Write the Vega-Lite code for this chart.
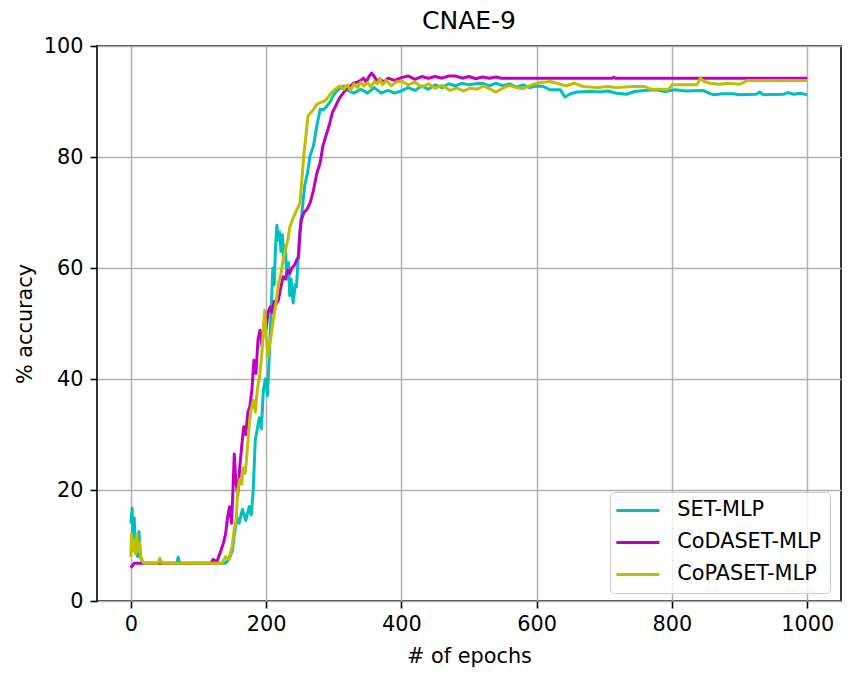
{
  "$schema": "https://vega.github.io/schema/vega-lite/v6.json",
  "width": 744,
  "height": 555,
  "autosize": {"type": "none"},
  "padding": {"left": 97, "top": 46, "right": 24, "bottom": 79},
  "background": "white",
  "title": {
    "text": "CNAE-9",
    "font": "DejaVu Sans",
    "fontSize": 25,
    "fontWeight": "normal",
    "color": "black",
    "anchor": "middle",
    "baseline": "bottom",
    "frame": "group",
    "offset": 6,
    "dy": 30
  },
  "config": {
    "font": "DejaVu Sans",
    "view": {"stroke": "black", "strokeWidth": 1.6},
    "axis": {
      "domain": false,
      "grid": true,
      "gridColor": "#b0b0b0",
      "gridWidth": 1.5,
      "tickColor": "black",
      "tickWidth": 1.6,
      "tickSize": 7,
      "labelFont": "DejaVu Sans",
      "labelFontSize": 20.8,
      "labelColor": "black",
      "titleFont": "DejaVu Sans",
      "titleFontSize": 20.8,
      "titleFontWeight": "normal",
      "titleColor": "black"
    }
  },
  "data": {
    "values": [
      {"model": "SET-MLP", "epoch": 0, "acc": 14},
      {"model": "SET-MLP", "epoch": 2, "acc": 16.7},
      {"model": "SET-MLP", "epoch": 3, "acc": 10},
      {"model": "SET-MLP", "epoch": 5, "acc": 15},
      {"model": "SET-MLP", "epoch": 7, "acc": 9},
      {"model": "SET-MLP", "epoch": 10, "acc": 8},
      {"model": "SET-MLP", "epoch": 12, "acc": 12.5},
      {"model": "SET-MLP", "epoch": 14, "acc": 8},
      {"model": "SET-MLP", "epoch": 17, "acc": 7},
      {"model": "SET-MLP", "epoch": 20, "acc": 6.8},
      {"model": "SET-MLP", "epoch": 68, "acc": 6.8},
      {"model": "SET-MLP", "epoch": 70, "acc": 7.9},
      {"model": "SET-MLP", "epoch": 72, "acc": 6.8},
      {"model": "SET-MLP", "epoch": 140, "acc": 6.8},
      {"model": "SET-MLP", "epoch": 145, "acc": 7.5},
      {"model": "SET-MLP", "epoch": 150, "acc": 9},
      {"model": "SET-MLP", "epoch": 153, "acc": 12},
      {"model": "SET-MLP", "epoch": 157, "acc": 15},
      {"model": "SET-MLP", "epoch": 160, "acc": 14},
      {"model": "SET-MLP", "epoch": 165, "acc": 16.5},
      {"model": "SET-MLP", "epoch": 170, "acc": 14.5},
      {"model": "SET-MLP", "epoch": 175, "acc": 17},
      {"model": "SET-MLP", "epoch": 178, "acc": 15.5},
      {"model": "SET-MLP", "epoch": 181, "acc": 20},
      {"model": "SET-MLP", "epoch": 184, "acc": 29},
      {"model": "SET-MLP", "epoch": 187, "acc": 31},
      {"model": "SET-MLP", "epoch": 190, "acc": 33},
      {"model": "SET-MLP", "epoch": 193, "acc": 31},
      {"model": "SET-MLP", "epoch": 196, "acc": 38},
      {"model": "SET-MLP", "epoch": 199, "acc": 40},
      {"model": "SET-MLP", "epoch": 202, "acc": 37},
      {"model": "SET-MLP", "epoch": 205, "acc": 45},
      {"model": "SET-MLP", "epoch": 208, "acc": 54},
      {"model": "SET-MLP", "epoch": 210, "acc": 60},
      {"model": "SET-MLP", "epoch": 212, "acc": 57},
      {"model": "SET-MLP", "epoch": 214, "acc": 64},
      {"model": "SET-MLP", "epoch": 216, "acc": 67.7},
      {"model": "SET-MLP", "epoch": 218, "acc": 65},
      {"model": "SET-MLP", "epoch": 220, "acc": 66.5},
      {"model": "SET-MLP", "epoch": 222, "acc": 63},
      {"model": "SET-MLP", "epoch": 224, "acc": 66},
      {"model": "SET-MLP", "epoch": 226, "acc": 62},
      {"model": "SET-MLP", "epoch": 228, "acc": 64},
      {"model": "SET-MLP", "epoch": 231, "acc": 58},
      {"model": "SET-MLP", "epoch": 233, "acc": 61},
      {"model": "SET-MLP", "epoch": 235, "acc": 55},
      {"model": "SET-MLP", "epoch": 237, "acc": 58},
      {"model": "SET-MLP", "epoch": 240, "acc": 53.7},
      {"model": "SET-MLP", "epoch": 243, "acc": 57},
      {"model": "SET-MLP", "epoch": 245, "acc": 56.6},
      {"model": "SET-MLP", "epoch": 248, "acc": 63},
      {"model": "SET-MLP", "epoch": 250, "acc": 66.8},
      {"model": "SET-MLP", "epoch": 253, "acc": 70},
      {"model": "SET-MLP", "epoch": 257, "acc": 74.8},
      {"model": "SET-MLP", "epoch": 261, "acc": 77},
      {"model": "SET-MLP", "epoch": 265, "acc": 80.2},
      {"model": "SET-MLP", "epoch": 270, "acc": 82},
      {"model": "SET-MLP", "epoch": 275, "acc": 85.6},
      {"model": "SET-MLP", "epoch": 280, "acc": 88.6},
      {"model": "SET-MLP", "epoch": 285, "acc": 88.5},
      {"model": "SET-MLP", "epoch": 290, "acc": 89.2},
      {"model": "SET-MLP", "epoch": 295, "acc": 90},
      {"model": "SET-MLP", "epoch": 299, "acc": 91},
      {"model": "SET-MLP", "epoch": 305, "acc": 92},
      {"model": "SET-MLP", "epoch": 309, "acc": 92.3},
      {"model": "SET-MLP", "epoch": 315, "acc": 92.8},
      {"model": "SET-MLP", "epoch": 320, "acc": 92},
      {"model": "SET-MLP", "epoch": 330, "acc": 91.5},
      {"model": "SET-MLP", "epoch": 340, "acc": 92.2},
      {"model": "SET-MLP", "epoch": 350, "acc": 91.5},
      {"model": "SET-MLP", "epoch": 360, "acc": 92.5},
      {"model": "SET-MLP", "epoch": 370, "acc": 91.5},
      {"model": "SET-MLP", "epoch": 380, "acc": 92},
      {"model": "SET-MLP", "epoch": 390, "acc": 91.5},
      {"model": "SET-MLP", "epoch": 400, "acc": 91.9},
      {"model": "SET-MLP", "epoch": 410, "acc": 92.5},
      {"model": "SET-MLP", "epoch": 420, "acc": 92},
      {"model": "SET-MLP", "epoch": 430, "acc": 92.8},
      {"model": "SET-MLP", "epoch": 440, "acc": 92.2},
      {"model": "SET-MLP", "epoch": 450, "acc": 93},
      {"model": "SET-MLP", "epoch": 460, "acc": 92.5},
      {"model": "SET-MLP", "epoch": 470, "acc": 93.2},
      {"model": "SET-MLP", "epoch": 480, "acc": 92.8},
      {"model": "SET-MLP", "epoch": 490, "acc": 93.3},
      {"model": "SET-MLP", "epoch": 500, "acc": 93},
      {"model": "SET-MLP", "epoch": 510, "acc": 93.2},
      {"model": "SET-MLP", "epoch": 520, "acc": 93.3},
      {"model": "SET-MLP", "epoch": 530, "acc": 92.8},
      {"model": "SET-MLP", "epoch": 540, "acc": 93.3},
      {"model": "SET-MLP", "epoch": 550, "acc": 92.8},
      {"model": "SET-MLP", "epoch": 560, "acc": 93.2},
      {"model": "SET-MLP", "epoch": 570, "acc": 92.6},
      {"model": "SET-MLP", "epoch": 580, "acc": 93},
      {"model": "SET-MLP", "epoch": 590, "acc": 92.5},
      {"model": "SET-MLP", "epoch": 600, "acc": 92.8},
      {"model": "SET-MLP", "epoch": 610, "acc": 92.7},
      {"model": "SET-MLP", "epoch": 620, "acc": 92.1},
      {"model": "SET-MLP", "epoch": 635, "acc": 92.1},
      {"model": "SET-MLP", "epoch": 642, "acc": 90.8},
      {"model": "SET-MLP", "epoch": 650, "acc": 91.4},
      {"model": "SET-MLP", "epoch": 660, "acc": 91.7},
      {"model": "SET-MLP", "epoch": 680, "acc": 91.8},
      {"model": "SET-MLP", "epoch": 694, "acc": 91.7},
      {"model": "SET-MLP", "epoch": 705, "acc": 91.9},
      {"model": "SET-MLP", "epoch": 718, "acc": 91.5},
      {"model": "SET-MLP", "epoch": 733, "acc": 91.3},
      {"model": "SET-MLP", "epoch": 745, "acc": 91.8},
      {"model": "SET-MLP", "epoch": 760, "acc": 92},
      {"model": "SET-MLP", "epoch": 775, "acc": 92.1},
      {"model": "SET-MLP", "epoch": 790, "acc": 91.8},
      {"model": "SET-MLP", "epoch": 805, "acc": 92.1},
      {"model": "SET-MLP", "epoch": 820, "acc": 91.9},
      {"model": "SET-MLP", "epoch": 846, "acc": 92},
      {"model": "SET-MLP", "epoch": 855, "acc": 91.5},
      {"model": "SET-MLP", "epoch": 862, "acc": 91.2},
      {"model": "SET-MLP", "epoch": 875, "acc": 91.4},
      {"model": "SET-MLP", "epoch": 890, "acc": 91.4},
      {"model": "SET-MLP", "epoch": 900, "acc": 91.2},
      {"model": "SET-MLP", "epoch": 925, "acc": 91.3},
      {"model": "SET-MLP", "epoch": 930, "acc": 91.7},
      {"model": "SET-MLP", "epoch": 935, "acc": 91.2},
      {"model": "SET-MLP", "epoch": 965, "acc": 91.3},
      {"model": "SET-MLP", "epoch": 972, "acc": 91.6},
      {"model": "SET-MLP", "epoch": 980, "acc": 91.3},
      {"model": "SET-MLP", "epoch": 990, "acc": 91.5},
      {"model": "SET-MLP", "epoch": 1000, "acc": 91.2},

      {"model": "CoDASET-MLP", "epoch": 0, "acc": 6},
      {"model": "CoDASET-MLP", "epoch": 2, "acc": 6.3},
      {"model": "CoDASET-MLP", "epoch": 5, "acc": 6.8},
      {"model": "CoDASET-MLP", "epoch": 118, "acc": 6.8},
      {"model": "CoDASET-MLP", "epoch": 122, "acc": 7.5},
      {"model": "CoDASET-MLP", "epoch": 127, "acc": 7},
      {"model": "CoDASET-MLP", "epoch": 130, "acc": 8},
      {"model": "CoDASET-MLP", "epoch": 133, "acc": 9},
      {"model": "CoDASET-MLP", "epoch": 137, "acc": 10.5},
      {"model": "CoDASET-MLP", "epoch": 140, "acc": 12},
      {"model": "CoDASET-MLP", "epoch": 143, "acc": 15},
      {"model": "CoDASET-MLP", "epoch": 146, "acc": 17},
      {"model": "CoDASET-MLP", "epoch": 149, "acc": 14},
      {"model": "CoDASET-MLP", "epoch": 151, "acc": 20},
      {"model": "CoDASET-MLP", "epoch": 153, "acc": 26.5},
      {"model": "CoDASET-MLP", "epoch": 155, "acc": 22},
      {"model": "CoDASET-MLP", "epoch": 158, "acc": 19},
      {"model": "CoDASET-MLP", "epoch": 161, "acc": 24},
      {"model": "CoDASET-MLP", "epoch": 164, "acc": 28},
      {"model": "CoDASET-MLP", "epoch": 167, "acc": 31.4},
      {"model": "CoDASET-MLP", "epoch": 170, "acc": 30},
      {"model": "CoDASET-MLP", "epoch": 173, "acc": 34},
      {"model": "CoDASET-MLP", "epoch": 176, "acc": 35},
      {"model": "CoDASET-MLP", "epoch": 179, "acc": 38},
      {"model": "CoDASET-MLP", "epoch": 182, "acc": 43.4},
      {"model": "CoDASET-MLP", "epoch": 185, "acc": 41},
      {"model": "CoDASET-MLP", "epoch": 188, "acc": 47},
      {"model": "CoDASET-MLP", "epoch": 191, "acc": 48.8},
      {"model": "CoDASET-MLP", "epoch": 194, "acc": 46},
      {"model": "CoDASET-MLP", "epoch": 197, "acc": 50},
      {"model": "CoDASET-MLP", "epoch": 200, "acc": 49},
      {"model": "CoDASET-MLP", "epoch": 203, "acc": 52},
      {"model": "CoDASET-MLP", "epoch": 206, "acc": 53},
      {"model": "CoDASET-MLP", "epoch": 209, "acc": 52},
      {"model": "CoDASET-MLP", "epoch": 212, "acc": 54},
      {"model": "CoDASET-MLP", "epoch": 215, "acc": 53.5},
      {"model": "CoDASET-MLP", "epoch": 218, "acc": 54.2},
      {"model": "CoDASET-MLP", "epoch": 221, "acc": 56},
      {"model": "CoDASET-MLP", "epoch": 225, "acc": 58.4},
      {"model": "CoDASET-MLP", "epoch": 228, "acc": 58},
      {"model": "CoDASET-MLP", "epoch": 232, "acc": 59.6},
      {"model": "CoDASET-MLP", "epoch": 235, "acc": 59},
      {"model": "CoDASET-MLP", "epoch": 238, "acc": 60},
      {"model": "CoDASET-MLP", "epoch": 242, "acc": 60.5},
      {"model": "CoDASET-MLP", "epoch": 245, "acc": 61.4},
      {"model": "CoDASET-MLP", "epoch": 248, "acc": 62},
      {"model": "CoDASET-MLP", "epoch": 250, "acc": 66},
      {"model": "CoDASET-MLP", "epoch": 252, "acc": 68.6},
      {"model": "CoDASET-MLP", "epoch": 256, "acc": 70},
      {"model": "CoDASET-MLP", "epoch": 260, "acc": 70.5},
      {"model": "CoDASET-MLP", "epoch": 265, "acc": 71.7},
      {"model": "CoDASET-MLP", "epoch": 270, "acc": 74},
      {"model": "CoDASET-MLP", "epoch": 275, "acc": 77},
      {"model": "CoDASET-MLP", "epoch": 280, "acc": 79},
      {"model": "CoDASET-MLP", "epoch": 284, "acc": 82},
      {"model": "CoDASET-MLP", "epoch": 289, "acc": 84},
      {"model": "CoDASET-MLP", "epoch": 294, "acc": 86},
      {"model": "CoDASET-MLP", "epoch": 298, "acc": 88},
      {"model": "CoDASET-MLP", "epoch": 302, "acc": 89},
      {"model": "CoDASET-MLP", "epoch": 308, "acc": 90.5},
      {"model": "CoDASET-MLP", "epoch": 314, "acc": 91.5},
      {"model": "CoDASET-MLP", "epoch": 320, "acc": 92.5},
      {"model": "CoDASET-MLP", "epoch": 325, "acc": 92.8},
      {"model": "CoDASET-MLP", "epoch": 329, "acc": 93.3},
      {"model": "CoDASET-MLP", "epoch": 335, "acc": 93.5},
      {"model": "CoDASET-MLP", "epoch": 340, "acc": 93.8},
      {"model": "CoDASET-MLP", "epoch": 344, "acc": 94.2},
      {"model": "CoDASET-MLP", "epoch": 348, "acc": 93.5},
      {"model": "CoDASET-MLP", "epoch": 352, "acc": 94.5},
      {"model": "CoDASET-MLP", "epoch": 356, "acc": 95.1},
      {"model": "CoDASET-MLP", "epoch": 360, "acc": 94.5},
      {"model": "CoDASET-MLP", "epoch": 363, "acc": 93.8},
      {"model": "CoDASET-MLP", "epoch": 368, "acc": 94},
      {"model": "CoDASET-MLP", "epoch": 375, "acc": 93.5},
      {"model": "CoDASET-MLP", "epoch": 380, "acc": 94.2},
      {"model": "CoDASET-MLP", "epoch": 390, "acc": 93.8},
      {"model": "CoDASET-MLP", "epoch": 400, "acc": 94.3},
      {"model": "CoDASET-MLP", "epoch": 410, "acc": 94.6},
      {"model": "CoDASET-MLP", "epoch": 420, "acc": 94},
      {"model": "CoDASET-MLP", "epoch": 430, "acc": 94.5},
      {"model": "CoDASET-MLP", "epoch": 440, "acc": 94.2},
      {"model": "CoDASET-MLP", "epoch": 450, "acc": 94.5},
      {"model": "CoDASET-MLP", "epoch": 460, "acc": 94.2},
      {"model": "CoDASET-MLP", "epoch": 470, "acc": 94.6},
      {"model": "CoDASET-MLP", "epoch": 480, "acc": 94.6},
      {"model": "CoDASET-MLP", "epoch": 490, "acc": 94.2},
      {"model": "CoDASET-MLP", "epoch": 500, "acc": 94.5},
      {"model": "CoDASET-MLP", "epoch": 510, "acc": 94.1},
      {"model": "CoDASET-MLP", "epoch": 520, "acc": 94.4},
      {"model": "CoDASET-MLP", "epoch": 530, "acc": 94.2},
      {"model": "CoDASET-MLP", "epoch": 540, "acc": 94.4},
      {"model": "CoDASET-MLP", "epoch": 548, "acc": 94.2},
      {"model": "CoDASET-MLP", "epoch": 712, "acc": 94.2},
      {"model": "CoDASET-MLP", "epoch": 714, "acc": 94.4},
      {"model": "CoDASET-MLP", "epoch": 716, "acc": 94.2},
      {"model": "CoDASET-MLP", "epoch": 1000, "acc": 94.2},

      {"model": "CoPASET-MLP", "epoch": 0, "acc": 8},
      {"model": "CoPASET-MLP", "epoch": 1, "acc": 12},
      {"model": "CoPASET-MLP", "epoch": 3, "acc": 9},
      {"model": "CoPASET-MLP", "epoch": 5, "acc": 11},
      {"model": "CoPASET-MLP", "epoch": 7, "acc": 8.5},
      {"model": "CoPASET-MLP", "epoch": 9, "acc": 12},
      {"model": "CoPASET-MLP", "epoch": 11, "acc": 9},
      {"model": "CoPASET-MLP", "epoch": 13, "acc": 10.5},
      {"model": "CoPASET-MLP", "epoch": 15, "acc": 8},
      {"model": "CoPASET-MLP", "epoch": 18, "acc": 7},
      {"model": "CoPASET-MLP", "epoch": 21, "acc": 6.8},
      {"model": "CoPASET-MLP", "epoch": 40, "acc": 6.8},
      {"model": "CoPASET-MLP", "epoch": 43, "acc": 7.7},
      {"model": "CoPASET-MLP", "epoch": 46, "acc": 6.8},
      {"model": "CoPASET-MLP", "epoch": 135, "acc": 6.8},
      {"model": "CoPASET-MLP", "epoch": 140, "acc": 8},
      {"model": "CoPASET-MLP", "epoch": 145, "acc": 7.5},
      {"model": "CoPASET-MLP", "epoch": 150, "acc": 10},
      {"model": "CoPASET-MLP", "epoch": 153, "acc": 13},
      {"model": "CoPASET-MLP", "epoch": 156, "acc": 15},
      {"model": "CoPASET-MLP", "epoch": 158, "acc": 20},
      {"model": "CoPASET-MLP", "epoch": 161, "acc": 22},
      {"model": "CoPASET-MLP", "epoch": 164, "acc": 21},
      {"model": "CoPASET-MLP", "epoch": 166, "acc": 24},
      {"model": "CoPASET-MLP", "epoch": 169, "acc": 23},
      {"model": "CoPASET-MLP", "epoch": 171, "acc": 25.4},
      {"model": "CoPASET-MLP", "epoch": 174, "acc": 30},
      {"model": "CoPASET-MLP", "epoch": 177, "acc": 34},
      {"model": "CoPASET-MLP", "epoch": 181, "acc": 36.2},
      {"model": "CoPASET-MLP", "epoch": 184, "acc": 34},
      {"model": "CoPASET-MLP", "epoch": 187, "acc": 38},
      {"model": "CoPASET-MLP", "epoch": 191, "acc": 41},
      {"model": "CoPASET-MLP", "epoch": 194, "acc": 45},
      {"model": "CoPASET-MLP", "epoch": 196, "acc": 49},
      {"model": "CoPASET-MLP", "epoch": 198, "acc": 52.4},
      {"model": "CoPASET-MLP", "epoch": 200, "acc": 48},
      {"model": "CoPASET-MLP", "epoch": 203, "acc": 44},
      {"model": "CoPASET-MLP", "epoch": 205, "acc": 46},
      {"model": "CoPASET-MLP", "epoch": 208, "acc": 48.3},
      {"model": "CoPASET-MLP", "epoch": 211, "acc": 51},
      {"model": "CoPASET-MLP", "epoch": 215, "acc": 54},
      {"model": "CoPASET-MLP", "epoch": 218, "acc": 57},
      {"model": "CoPASET-MLP", "epoch": 222, "acc": 59},
      {"model": "CoPASET-MLP", "epoch": 225, "acc": 61.4},
      {"model": "CoPASET-MLP", "epoch": 228, "acc": 63},
      {"model": "CoPASET-MLP", "epoch": 232, "acc": 65},
      {"model": "CoPASET-MLP", "epoch": 235, "acc": 67.4},
      {"model": "CoPASET-MLP", "epoch": 240, "acc": 69},
      {"model": "CoPASET-MLP", "epoch": 245, "acc": 70.4},
      {"model": "CoPASET-MLP", "epoch": 250, "acc": 71.7},
      {"model": "CoPASET-MLP", "epoch": 253, "acc": 76},
      {"model": "CoPASET-MLP", "epoch": 256, "acc": 80.7},
      {"model": "CoPASET-MLP", "epoch": 259, "acc": 84},
      {"model": "CoPASET-MLP", "epoch": 262, "acc": 87.4},
      {"model": "CoPASET-MLP", "epoch": 266, "acc": 88},
      {"model": "CoPASET-MLP", "epoch": 270, "acc": 88.5},
      {"model": "CoPASET-MLP", "epoch": 275, "acc": 89.5},
      {"model": "CoPASET-MLP", "epoch": 280, "acc": 89.8},
      {"model": "CoPASET-MLP", "epoch": 285, "acc": 90},
      {"model": "CoPASET-MLP", "epoch": 290, "acc": 90.5},
      {"model": "CoPASET-MLP", "epoch": 296, "acc": 91.5},
      {"model": "CoPASET-MLP", "epoch": 302, "acc": 92.2},
      {"model": "CoPASET-MLP", "epoch": 309, "acc": 92.8},
      {"model": "CoPASET-MLP", "epoch": 315, "acc": 92.2},
      {"model": "CoPASET-MLP", "epoch": 320, "acc": 93},
      {"model": "CoPASET-MLP", "epoch": 325, "acc": 92},
      {"model": "CoPASET-MLP", "epoch": 330, "acc": 93.2},
      {"model": "CoPASET-MLP", "epoch": 335, "acc": 92.5},
      {"model": "CoPASET-MLP", "epoch": 340, "acc": 93.5},
      {"model": "CoPASET-MLP", "epoch": 345, "acc": 92.8},
      {"model": "CoPASET-MLP", "epoch": 350, "acc": 93.4},
      {"model": "CoPASET-MLP", "epoch": 355, "acc": 92.6},
      {"model": "CoPASET-MLP", "epoch": 360, "acc": 93.6},
      {"model": "CoPASET-MLP", "epoch": 365, "acc": 93.2},
      {"model": "CoPASET-MLP", "epoch": 368, "acc": 94.2},
      {"model": "CoPASET-MLP", "epoch": 372, "acc": 93},
      {"model": "CoPASET-MLP", "epoch": 378, "acc": 93.8},
      {"model": "CoPASET-MLP", "epoch": 385, "acc": 92.8},
      {"model": "CoPASET-MLP", "epoch": 392, "acc": 93.5},
      {"model": "CoPASET-MLP", "epoch": 400, "acc": 93.7},
      {"model": "CoPASET-MLP", "epoch": 410, "acc": 93},
      {"model": "CoPASET-MLP", "epoch": 420, "acc": 93.5},
      {"model": "CoPASET-MLP", "epoch": 430, "acc": 92.6},
      {"model": "CoPASET-MLP", "epoch": 440, "acc": 93.2},
      {"model": "CoPASET-MLP", "epoch": 450, "acc": 92.4},
      {"model": "CoPASET-MLP", "epoch": 460, "acc": 92.9},
      {"model": "CoPASET-MLP", "epoch": 472, "acc": 92},
      {"model": "CoPASET-MLP", "epoch": 482, "acc": 92.4},
      {"model": "CoPASET-MLP", "epoch": 492, "acc": 91.9},
      {"model": "CoPASET-MLP", "epoch": 502, "acc": 92.4},
      {"model": "CoPASET-MLP", "epoch": 512, "acc": 92.2},
      {"model": "CoPASET-MLP", "epoch": 521, "acc": 92.8},
      {"model": "CoPASET-MLP", "epoch": 530, "acc": 92.3},
      {"model": "CoPASET-MLP", "epoch": 540, "acc": 91.7},
      {"model": "CoPASET-MLP", "epoch": 550, "acc": 92.4},
      {"model": "CoPASET-MLP", "epoch": 560, "acc": 92.9},
      {"model": "CoPASET-MLP", "epoch": 570, "acc": 92.5},
      {"model": "CoPASET-MLP", "epoch": 580, "acc": 92.3},
      {"model": "CoPASET-MLP", "epoch": 595, "acc": 93.1},
      {"model": "CoPASET-MLP", "epoch": 605, "acc": 93.4},
      {"model": "CoPASET-MLP", "epoch": 620, "acc": 93.6},
      {"model": "CoPASET-MLP", "epoch": 635, "acc": 93.1},
      {"model": "CoPASET-MLP", "epoch": 645, "acc": 92.8},
      {"model": "CoPASET-MLP", "epoch": 655, "acc": 93.3},
      {"model": "CoPASET-MLP", "epoch": 669, "acc": 92.7},
      {"model": "CoPASET-MLP", "epoch": 690, "acc": 92.5},
      {"model": "CoPASET-MLP", "epoch": 705, "acc": 92.7},
      {"model": "CoPASET-MLP", "epoch": 718, "acc": 92.5},
      {"model": "CoPASET-MLP", "epoch": 743, "acc": 92.7},
      {"model": "CoPASET-MLP", "epoch": 760, "acc": 92.7},
      {"model": "CoPASET-MLP", "epoch": 770, "acc": 92.2},
      {"model": "CoPASET-MLP", "epoch": 795, "acc": 92.2},
      {"model": "CoPASET-MLP", "epoch": 800, "acc": 93},
      {"model": "CoPASET-MLP", "epoch": 837, "acc": 93},
      {"model": "CoPASET-MLP", "epoch": 842, "acc": 94.2},
      {"model": "CoPASET-MLP", "epoch": 848, "acc": 93.6},
      {"model": "CoPASET-MLP", "epoch": 856, "acc": 93.3},
      {"model": "CoPASET-MLP", "epoch": 870, "acc": 93.1},
      {"model": "CoPASET-MLP", "epoch": 885, "acc": 93.3},
      {"model": "CoPASET-MLP", "epoch": 900, "acc": 93.1},
      {"model": "CoPASET-MLP", "epoch": 912, "acc": 93.8},
      {"model": "CoPASET-MLP", "epoch": 1000, "acc": 93.8}
    ]
  },
  "mark": {"type": "line", "strokeWidth": 3, "strokeJoin": "round"},
  "encoding": {
    "x": {
      "field": "epoch",
      "type": "quantitative",
      "scale": {"domain": [-50, 1050], "nice": false, "zero": false},
      "axis": {
        "values": [0, 200, 400, 600, 800, 1000],
        "format": "d",
        "title": "# of epochs",
        "labelPadding": 6,
        "titleY": 55,
        "titleBaseline": "middle"
      }
    },
    "y": {
      "field": "acc",
      "type": "quantitative",
      "scale": {"domain": [0, 100], "nice": false},
      "axis": {
        "values": [0, 20, 40, 60, 80, 100],
        "title": "% accuracy",
        "labelPadding": 7,
        "titleX": -72,
        "titleBaseline": "middle"
      }
    },
    "color": {
      "field": "model",
      "type": "nominal",
      "sort": ["SET-MLP", "CoDASET-MLP", "CoPASET-MLP"],
      "scale": {
        "domain": ["SET-MLP", "CoDASET-MLP", "CoPASET-MLP"],
        "range": ["#00bfbf", "#bf00bf", "#bfbf00"]
      },
      "legend": {
        "title": null,
        "orient": "none",
        "legendX": 513,
        "legendY": 446,
        "symbolType": "M-4.3,0H4.3",
        "symbolSize": 100,
        "symbolOffset": 9.5,
        "symbolStrokeWidth": 3,
        "labelFont": "DejaVu Sans",
        "labelFontSize": 20.8,
        "labelColor": "black",
        "labelOffset": 29,
        "rowPadding": 10,
        "padding": 8,
        "fillColor": "rgba(255,255,255,0.8)",
        "strokeColor": "#cccccc",
        "cornerRadius": 4
      }
    },
    "order": {"field": "epoch", "type": "quantitative"}
  }
}
